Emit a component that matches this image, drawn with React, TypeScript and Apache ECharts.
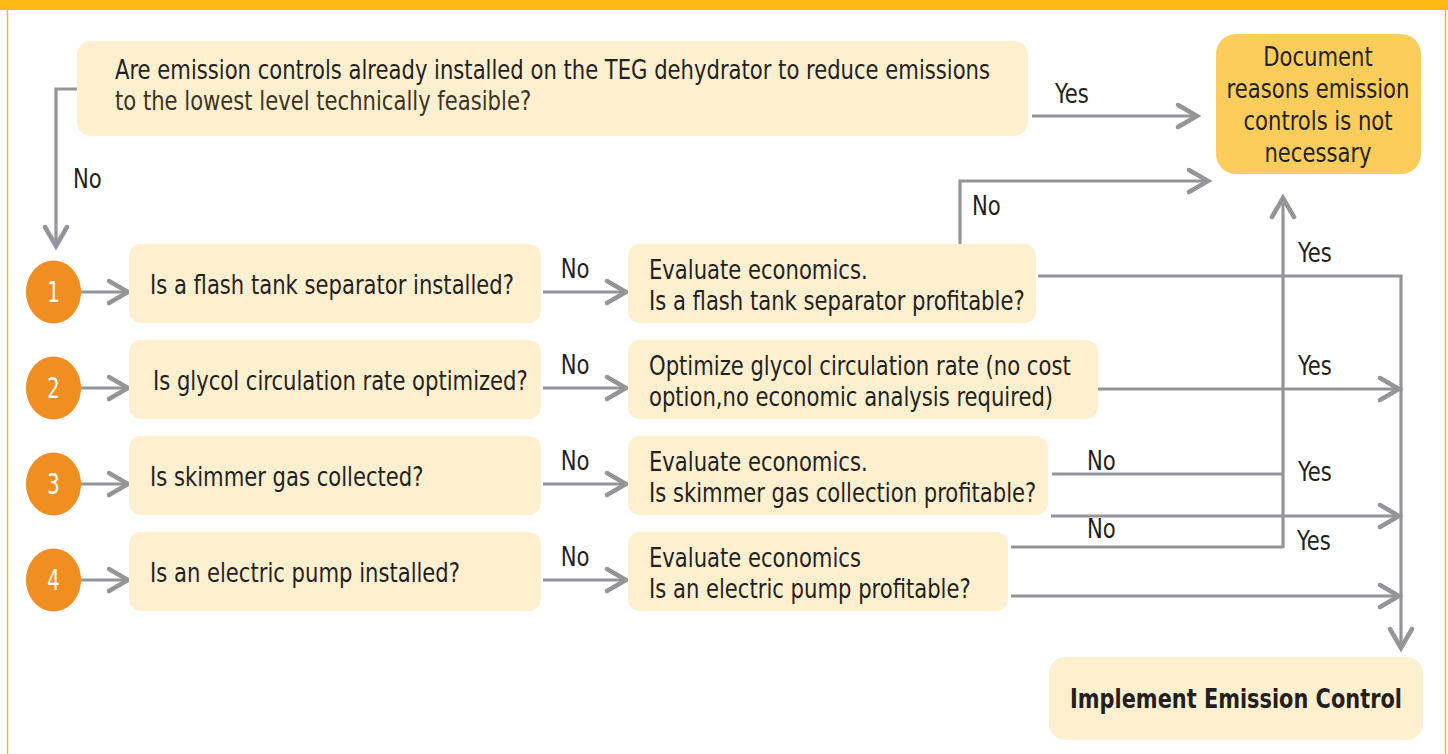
import React, { useEffect, useRef } from "react";
import * as echarts from "echarts";

// ---- content ----
const stepNumbers = ["1", "2", "3", "4"];
const topQuestion = [
  "Are emission controls already installed on the TEG dehydrator to reduce emissions",
  "to the lowest level technically feasible?",
];
const questions = [
  "Is a flash tank separator installed?",
  "Is glycol circulation rate optimized?",
  "Is skimmer gas collected?",
  "Is an electric pump installed?",
];
const actions = [
  ["Evaluate economics.", "Is a flash tank separator profitable?"],
  ["Optimize glycol circulation rate (no cost", "option,no economic analysis required)"],
  ["Evaluate economics.", "Is skimmer gas collection profitable?"],
  ["Evaluate economics", "Is an electric pump profitable?"],
];
const documentText = ["Document", "reasons emission", "controls is not", "necessary"];
const implementText = "Implement Emission Control";
const yesLabel = "Yes";
const noLabel = "No";

// ---- layout ----
const FONT = "'DejaVu Sans Condensed', 'DejaVu Sans', sans-serif";
const GRAY = "#939598";
const CREAM = "#FEF0CF";
const GOLD = "#FDCD5C";
const ORANGE = "#F18E22";
const TEXT = "#231F20";
const SQUEEZE = 0.87;
const rowY = [292, 388, 484, 580];
const actionRight = [1036, 1098, 1048, 1008];

function txt(text: string, x: number, y: number, opts: any = {}) {
  return {
    type: "text",
    x,
    y,
    scaleX: opts.scaleX || SQUEEZE,
    silent: true,
    style: {
      text,
      fill: opts.fill || TEXT,
      fontSize: opts.size || 27,
      fontFamily: FONT,
      fontWeight: opts.weight || "normal",
      textAlign: opts.align || "left",
      textVerticalAlign: "middle",
    },
  };
}

function rrect(x: number, y: number, w: number, h: number, r: number, fill: string) {
  return { type: "rect", shape: { x, y, width: w, height: h, r }, style: { fill }, silent: true };
}

function arrow(points: number[][], head = true) {
  const els: any[] = [
    {
      type: "polyline",
      shape: { points },
      style: { stroke: GRAY, lineWidth: 3.2, fill: null, lineJoin: "miter" },
      silent: true,
    },
  ];
  if (head) {
    const [x2, y2] = points[points.length - 1];
    const [x1, y1] = points[points.length - 2];
    const len = Math.hypot(x2 - x1, y2 - y1);
    const ux = (x2 - x1) / len;
    const uy = (y2 - y1) / len;
    const back = 19;
    const spread = 11;
    const bx = x2 - ux * back;
    const by = y2 - uy * back;
    els.push({
      type: "polyline",
      shape: {
        points: [
          [bx - uy * spread, by + ux * spread],
          [x2, y2],
          [bx + uy * spread, by - ux * spread],
        ],
      },
      style: { stroke: GRAY, lineWidth: 4.5, fill: null, lineCap: "round", lineJoin: "miter" },
      silent: true,
    });
  }
  return els;
}

function buildGraphic() {
  const els: any[] = [];
  // frame
  els.push({ type: "rect", shape: { x: 0, y: 0, width: 1448, height: 10 }, style: { fill: "#FDB913" }, silent: true });
  els.push({ type: "line", shape: { x1: 7.5, y1: 10, x2: 7.5, y2: 754 }, style: { stroke: "#FDB913", lineWidth: 1.5 }, silent: true });
  els.push({ type: "line", shape: { x1: 1445.5, y1: 10, x2: 1445.5, y2: 754 }, style: { stroke: "#FDB913", lineWidth: 1.5 }, silent: true });

  // top question
  els.push(rrect(77, 41, 951, 95, 14, CREAM));
  els.push(txt(topQuestion[0], 115, 70));
  els.push(txt(topQuestion[1], 115, 101, { fill: "#3B3423" }));
  // Document box
  els.push(rrect(1216, 34, 205, 140, 20, GOLD));
  documentText.forEach((t, i) => els.push(txt(t, 1318, 57 + i * 32, { align: "center" })));
  // Implement box
  els.push(rrect(1049, 657, 374, 83, 16, CREAM));
  els.push(txt(implementText, 1236, 699, { align: "center", weight: "bold", scaleX: 0.86 }));

  // top yes / left no
  els.push(...arrow([[1032, 116], [1197, 116]]));
  els.push(txt(yesLabel, 1055, 94));
  els.push(...arrow([[77, 89], [56, 89], [56, 246]]));
  els.push(txt(noLabel, 73, 179));

  rowY.forEach((cy, i) => {
    const boxTop = cy - 48;
    // circle
    els.push({ type: "ellipse", shape: { cx: 53.5, cy: cy, rx: 27.5, ry: 31.5 }, style: { fill: ORANGE }, silent: true });
    els.push(txt(stepNumbers[i], 53.5, cy, { fill: "#FFFFFF", align: "center", size: 29, scaleX: 0.75 }));
    els.push(...arrow([[81, cy], [128, cy]]));
    // question box
    els.push(rrect(129, boxTop, 412, 79, 12, CREAM));
    els.push(txt(questions[i], i === 1 ? 153 : 150, cy - 7));
    // No arrow
    els.push(...arrow([[543, cy], [626, cy]]));
    els.push(txt(noLabel, 575, cy - 23, { align: "center" }));
    // action box
    els.push(rrect(628, boxTop, actionRight[i] - 628, 79, 12, CREAM));
    els.push(txt(actions[i][0], 649, cy - 22));
    els.push(txt(actions[i][1], 649, cy + 9));
  });

  // row 1: No -> Document, Yes -> Implement (main vertical)
  els.push(...arrow([[960, 244], [960, 181], [1208, 181]]));
  els.push(txt(noLabel, 972, 206));
  els.push(...arrow([[1038, 276], [1401, 276], [1401, 648]]));
  els.push(txt(yesLabel, 1298, 253));
  // collector to Document
  els.push(...arrow([[1283, 548], [1283, 198]]));
  // row 2 yes
  els.push(...arrow([[1098, 389], [1399, 389]]));
  els.push(txt(yesLabel, 1298, 366));
  // row 3
  els.push(...arrow([[1052, 474], [1283, 474]], false));
  els.push(txt(noLabel, 1087, 461));
  els.push(txt(yesLabel, 1298, 472));
  els.push(...arrow([[1051, 516], [1399, 516]]));
  // row 4
  els.push(...arrow([[1011, 547], [1283, 547]], false));
  els.push(txt(noLabel, 1087, 529));
  els.push(txt(yesLabel, 1297, 541));
  els.push(...arrow([[1011, 596], [1399, 596]]));
  return els;
}

export default function App() {
  const ref = useRef<HTMLDivElement>(null);
  useEffect(() => {
    if (!ref.current) return;
    const chart = echarts.init(ref.current, undefined, { renderer: "svg" });
    chart.setOption({
      animation: false,
      backgroundColor: "#FFFFFF",
      graphic: { elements: buildGraphic() },
    });
    return () => chart.dispose();
  }, []);
  return (
    <div
      ref={ref}
      style={{ position: "fixed", left: 0, top: 0, width: 1448, height: 754 }}
    />
  );
}
